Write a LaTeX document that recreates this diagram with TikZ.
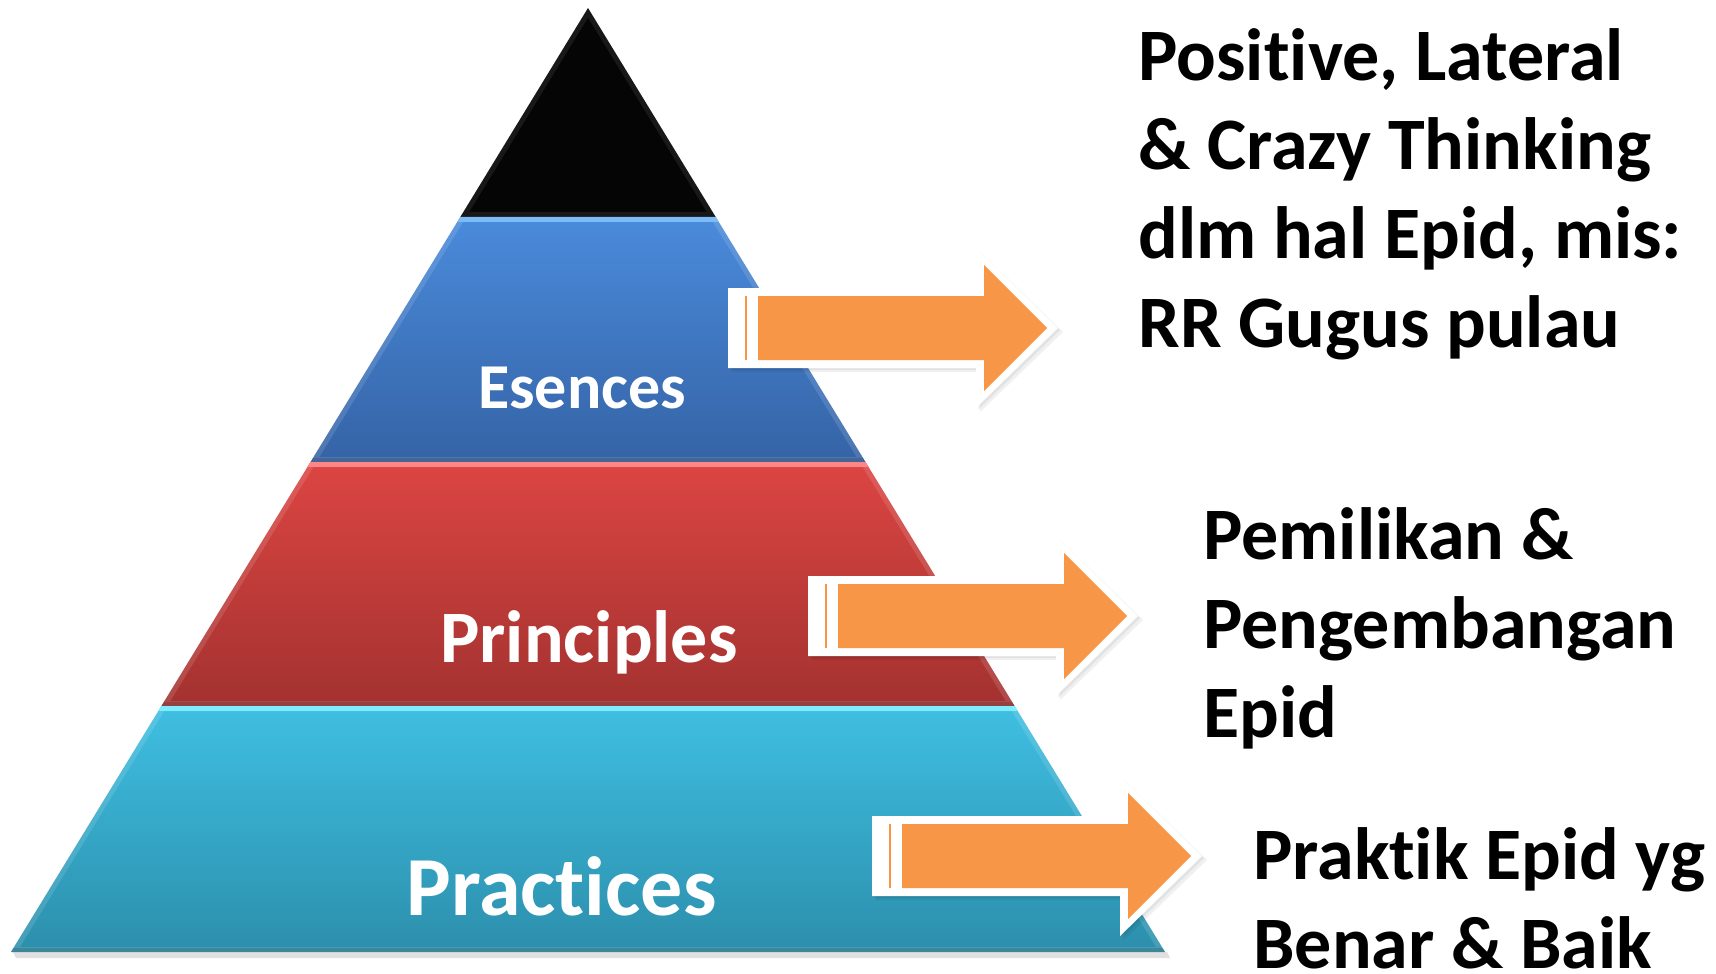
\documentclass[tikz,border=0pt]{standalone}
\usepackage{fontspec}
\setmainfont[Ligatures=NoCommon]{Carlito}
\usetikzlibrary{shadows}
\definecolor{arroworange}{HTML}{F79646}
\definecolor{blueTop}{HTML}{4A8BDB}
\definecolor{blueBot}{HTML}{3563A6}
\definecolor{blueHl}{HTML}{6CB2F7}
\definecolor{redTop}{HTML}{DC4542}
\definecolor{redBot}{HTML}{A33230}
\definecolor{redHl}{HTML}{FF7676}
\definecolor{cyanTop}{HTML}{3FBFE2}
\definecolor{cyanBot}{HTML}{2C8FAC}
\definecolor{cyanHl}{HTML}{6CEBFF}
\definecolor{apexBlack}{HTML}{050505}
\newcommand\pyrlayer[6]{%
  \shade[top color=#2,bottom color=#3] #1;
  \begin{scope}
    \clip #1;
    \fill[#4] (0,#5) rectangle (1716,{#5+5});
    \fill[black,opacity=0.18] (0,{#6-4}) rectangle (1716,#6);
    \draw[white,opacity=0.12,line width=5pt] #1;
  \end{scope}}
\newcommand\stripedarrow[2]{%
  \fill[black,opacity=0.06]
    ({#1-26},{#2-36}) -- ({#1+222},{#2-36}) -- ({#1+222},{#2-76}) -- ({#1+305},{#2+4})
    -- ({#1+222},{#2+84}) -- ({#1+222},{#2+44}) -- ({#1-26},{#2+44}) -- cycle;
  \fill[black,opacity=0.06]
    ({#1-28},{#2-38}) -- ({#1+220},{#2-38}) -- ({#1+220},{#2-78}) -- ({#1+302},{#2+2})
    -- ({#1+220},{#2+82}) -- ({#1+220},{#2+42}) -- ({#1-28},{#2+42}) -- cycle;
  \fill[white]
    ({#1-30},{#2-40}) -- ({#1+218},{#2-40}) -- ({#1+218},{#2-80}) -- ({#1+300},#2)
    -- ({#1+218},{#2+80}) -- ({#1+218},{#2+40}) -- ({#1-30},{#2+40}) -- cycle;
  \fill[arroworange]
    (#1,{#2-32}) -- ({#1+226},{#2-32}) -- ({#1+226},{#2-63}) -- ({#1+289},#2)
    -- ({#1+226},{#2+63}) -- ({#1+226},{#2+32}) -- (#1,{#2+32}) -- cycle;
  \fill[arroworange] ({#1-13},{#2-32}) rectangle ({#1-11.5},{#2+32});}
\tikzset{
  layertext/.style={text=white,inner sep=0pt,anchor=base},
  sidetext/.style={text=black,inner sep=0pt,anchor=base west,align=left,
    font=\fontsize{37}{44.5}\selectfont\bfseries},
}
\begin{document}
\begin{tikzpicture}[x=0.5pt,y=-0.5pt]
\useasboundingbox (0,0) rectangle (1716,973);
% soft shadow under pyramid
\fill[black,opacity=0.12] (13,952) -- (1167,952) -- (1170,958) -- (16,958) -- cycle;
% pyramid layers
\fill[apexBlack] (588,8) -- (715.7,217) -- (460.3,217) -- cycle;
\begin{scope}
  \clip (588,8) -- (715.7,217) -- (460.3,217) -- cycle;
  \draw[white,opacity=0.08,line width=5pt] (588,8) -- (715.7,217) -- (460.3,217) -- cycle;
\end{scope}
\pyrlayer{(460.3,217) -- (715.7,217) -- (865.5,462) -- (310.5,462) -- cycle}{blueTop}{blueBot}{blueHl}{217}{462}
\pyrlayer{(310.5,462) -- (865.5,462) -- (1014.6,706) -- (161.4,706) -- cycle}{redTop}{redBot}{redHl}{462}{706}
\pyrlayer{(161.4,706) -- (1014.6,706) -- (1165,952) -- (11,952) -- cycle}{cyanTop}{cyanBot}{cyanHl}{706}{952}
% layer labels
\node[layertext,font=\fontsize{32}{38}\selectfont\bfseries] (esences) at (582,408) {Esences};
\node[layertext,font=\fontsize{37}{44}\selectfont\bfseries] (principles) at (589,662) {Principles};
\node[layertext,font=\fontsize{42}{50}\selectfont\bfseries] (practices) at (561.5,915) {Practices};
% arrows
\stripedarrow{758}{328}
\stripedarrow{838}{616}
\stripedarrow{902}{856}
% side texts (anchor at the baseline of the last line)
\node[sidetext] (t1) at (1138,347) {Positive, Lateral\\\& Crazy Thinking\\dlm hal Epid, mis:\\RR Gugus pulau};
\node[sidetext] (t2) at (1203,737) {Pemilikan \&\\Pengembangan\\Epid};
\node[sidetext] (t3) at (1253,968) {Praktik Epid yg\\Benar \& Baik};
\end{tikzpicture}
\end{document}
